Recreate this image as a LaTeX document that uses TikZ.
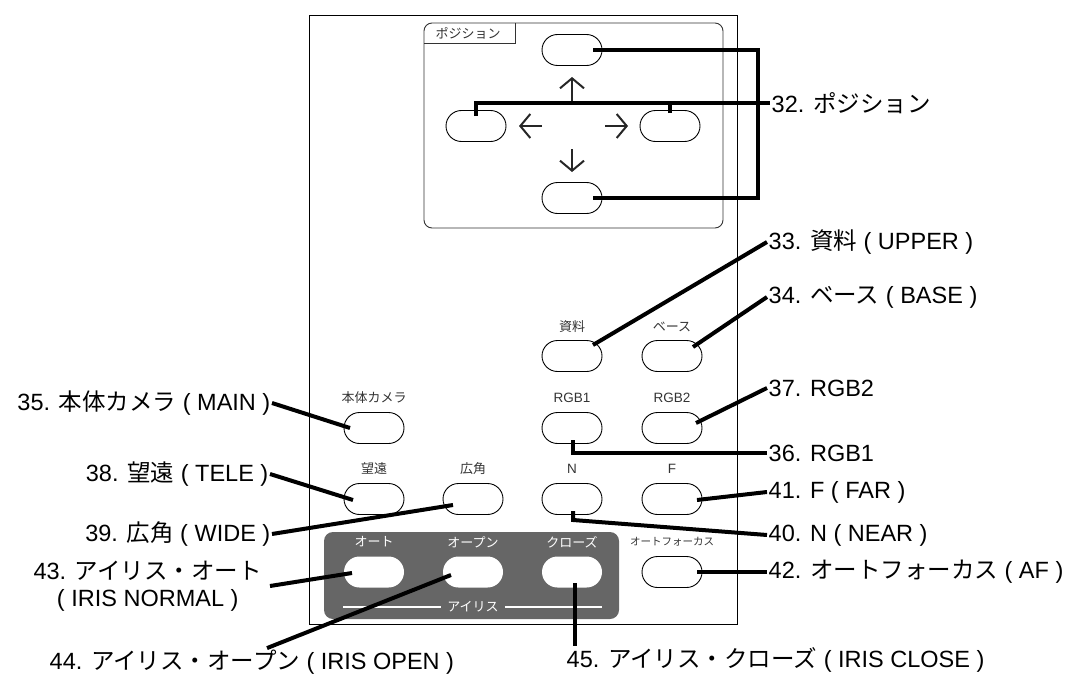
\documentclass[tikz,border=0pt]{standalone}
\usepackage{fontspec}
\setmainfont{Liberation Sans}
\newfontfamily\jpf{Noto Sans CJK JP}
\newcommand\J[1]{{\jpf #1}}
\usetikzlibrary{calc,arrows.meta}
\tikzset{
  btn/.style={draw, line width=0.9pt, minimum width=60pt, minimum height=31pt, rounded corners=15.5pt, inner sep=0pt},
  wbtn/.style={fill=white, minimum width=60pt, minimum height=31pt, rounded corners=15.5pt, inner sep=0pt},
  sl/.style={font=\jpf\fontsize{13}{14}\selectfont, text=black!80, inner sep=0pt},
  slw/.style={sl, text=white},
  lbl/.style={font=\fontsize{23.5}{27.5}\selectfont, inner sep=1.5pt},
  lead/.style={line width=4pt, line join=miter},
  parr/.style={line width=2pt, black!85, -{Straight Barb[length=10pt,width=24pt,line width=2pt]}}
}
\begin{document}
\begin{tikzpicture}[x=1pt,y=-1pt]
\useasboundingbox (0,0) rectangle (1077,677);
% outer panel
\draw[line width=0.9pt] (309,15) rectangle (737,624);
% position box
\draw[line width=0.9pt, black!80, rounded corners=8pt] (424,23) rectangle (723,228);
\draw[line width=0.9pt, black!80] (424,43) -- (515,43) -- (515,23);
\node[sl] (ptab) at (468,33) {ポジション};
% position buttons
\node[btn] (pu) at (572,50) {};
\node[btn] (pl) at (476,126) {};
\node[btn] (pr) at (670,126) {};
\node[btn] (pd) at (572,198) {};
\draw[parr] (572,102) -- (572,77);
\draw[parr] (542,126) -- (519,126);
\draw[parr] (605,126) -- (628,126);
\draw[parr] (572,149) -- (572,172);
% buttons row 1
\node[btn] (b33) at (572,356) {};
\node[btn] (b34) at (672,356) {};
\node[sl] at (572,327) {資料};
\node[sl] at (672,327) {ベース};
% row 2
\node[btn] (b35) at (374,428) {};
\node[btn] (b36) at (572,428) {};
\node[btn] (b37) at (672,428) {};
\node[sl] at (374,398) {本体カメラ};
\node[sl, font=\fontsize{13.5}{14}\selectfont] at (572,398) {RGB1};
\node[sl, font=\fontsize{13.5}{14}\selectfont] at (672,398) {RGB2};
% row 3
\node[btn] (b38) at (374,499) {};
\node[btn] (b39) at (473,499) {};
\node[btn] (b40) at (572,499) {};
\node[btn] (b41) at (672,499) {};
\node[sl] at (374,469) {望遠};
\node[sl] at (473,469) {広角};
\node[sl, font=\fontsize{13.5}{14}\selectfont] at (572,469) {N};
\node[sl, font=\fontsize{13.5}{14}\selectfont] at (672,469) {F};
% iris group
\fill[black!60, rounded corners=9pt] (324,532) rectangle (619,619);
\node[wbtn] (b43) at (374,572) {};
\node[wbtn] (b44) at (473,572) {};
\node[wbtn] (b45) at (572,572) {};
\node[slw] at (374,542) {オート};
\node[slw] at (473,542) {オープン};
\node[slw] at (572,542) {クローズ};
\node[slw, inner xsep=6pt] (iris) at (473,607) {アイリス};
\draw[white, line width=1.5pt] (343,607) -- (iris.west);
\draw[white, line width=1.5pt] (iris.east) -- (602,607);
\node[btn] (b42) at (672,572) {};
\node[sl, font=\jpf\fontsize{10.5}{12}\selectfont] at (672,542) {オートフォーカス};
% labels right
\node[lbl, anchor=west] (l32) at (770,103) {32. \J{ポジション}};
\node[lbl, anchor=west] (l33) at (767,242) {33. \J{資料} ( UPPER )};
\node[lbl, anchor=west] (l34) at (767,297) {34. \J{ベース} ( BASE )};
\node[lbl, anchor=west] (l37) at (767,388) {37. RGB2};
\node[lbl, anchor=west] (l36) at (767,453) {36. RGB1};
\node[lbl, anchor=west] (l41) at (767,492) {41. F ( FAR )};
\node[lbl, anchor=west] (l40) at (767,535) {40. N ( NEAR )};
\node[lbl, anchor=west] (l42) at (767,572) {42. \J{オートフォーカス} ( AF )};
\node[lbl, anchor=west] (l45) at (565,660) {45. \J{アイリス・クローズ} ( IRIS CLOSE )};
% labels left
\node[lbl, anchor=east] (l35) at (272,403) {35. \J{本体カメラ} ( MAIN )};
\node[lbl, anchor=east] (l38) at (270,474) {38. \J{望遠} ( TELE )};
\node[lbl, anchor=east] (l39) at (272,534) {39. \J{広角} ( WIDE )};
\node[lbl, anchor=east, align=center, inner xsep=8pt] (l43) at (270,586) {43. \J{アイリス・オート}\\( IRIS NORMAL )};
\node[lbl, anchor=west] (l44) at (48,662) {44. \J{アイリス・オープン} ( IRIS OPEN )};
% leaders
\coordinate (j32) at ($(l32.west)+(-12,0)$);
\draw[lead] ($(pu)+(21,0)$) -| (j32) |- ($(pd)+(21,0)$);
\draw[lead] ($(pl)+(0,-10)$) |- (l32.west);
\draw[lead] ($(pr)+(0,-13)$) -- (pr |- l32.west);
\draw[lead] ($(b33)+(21,-11)$) -- (l33.west);
\draw[lead] ($(b34)+(21,-9)$) -- (l34.west);
\draw[lead] ($(b37)+(24,-5)$) -- (l37.west);
\draw[lead] ($(b36)+(1,12)$) |- (l36.west);
\draw[lead] ($(b41)+(25,1)$) -- (l41.west);
\draw[lead] ($(b40)+(1,12)$) -- ++(0,9) -- (l40.west);
\draw[lead] ($(b42)+(25,0)$) -- (l42.west);
\draw[lead] ($(b45)+(3,11)$) coordinate (t45) -- (t45 |- l45.north);
\draw[lead] ($(b44)+(-22,3)$) -- ($(l44.north west)+(219,0)$);
\draw[lead] ($(b35)+(-24,0)$) -- (l35.east);
\draw[lead] ($(b38)+(-21,1)$) -- (l38.east);
\draw[lead] ($(b39)+(-20,6)$) -- (l39.east);
\draw[lead] ($(b43)+(-22,1)$) -- (l43.east);
\end{tikzpicture}
\end{document}
